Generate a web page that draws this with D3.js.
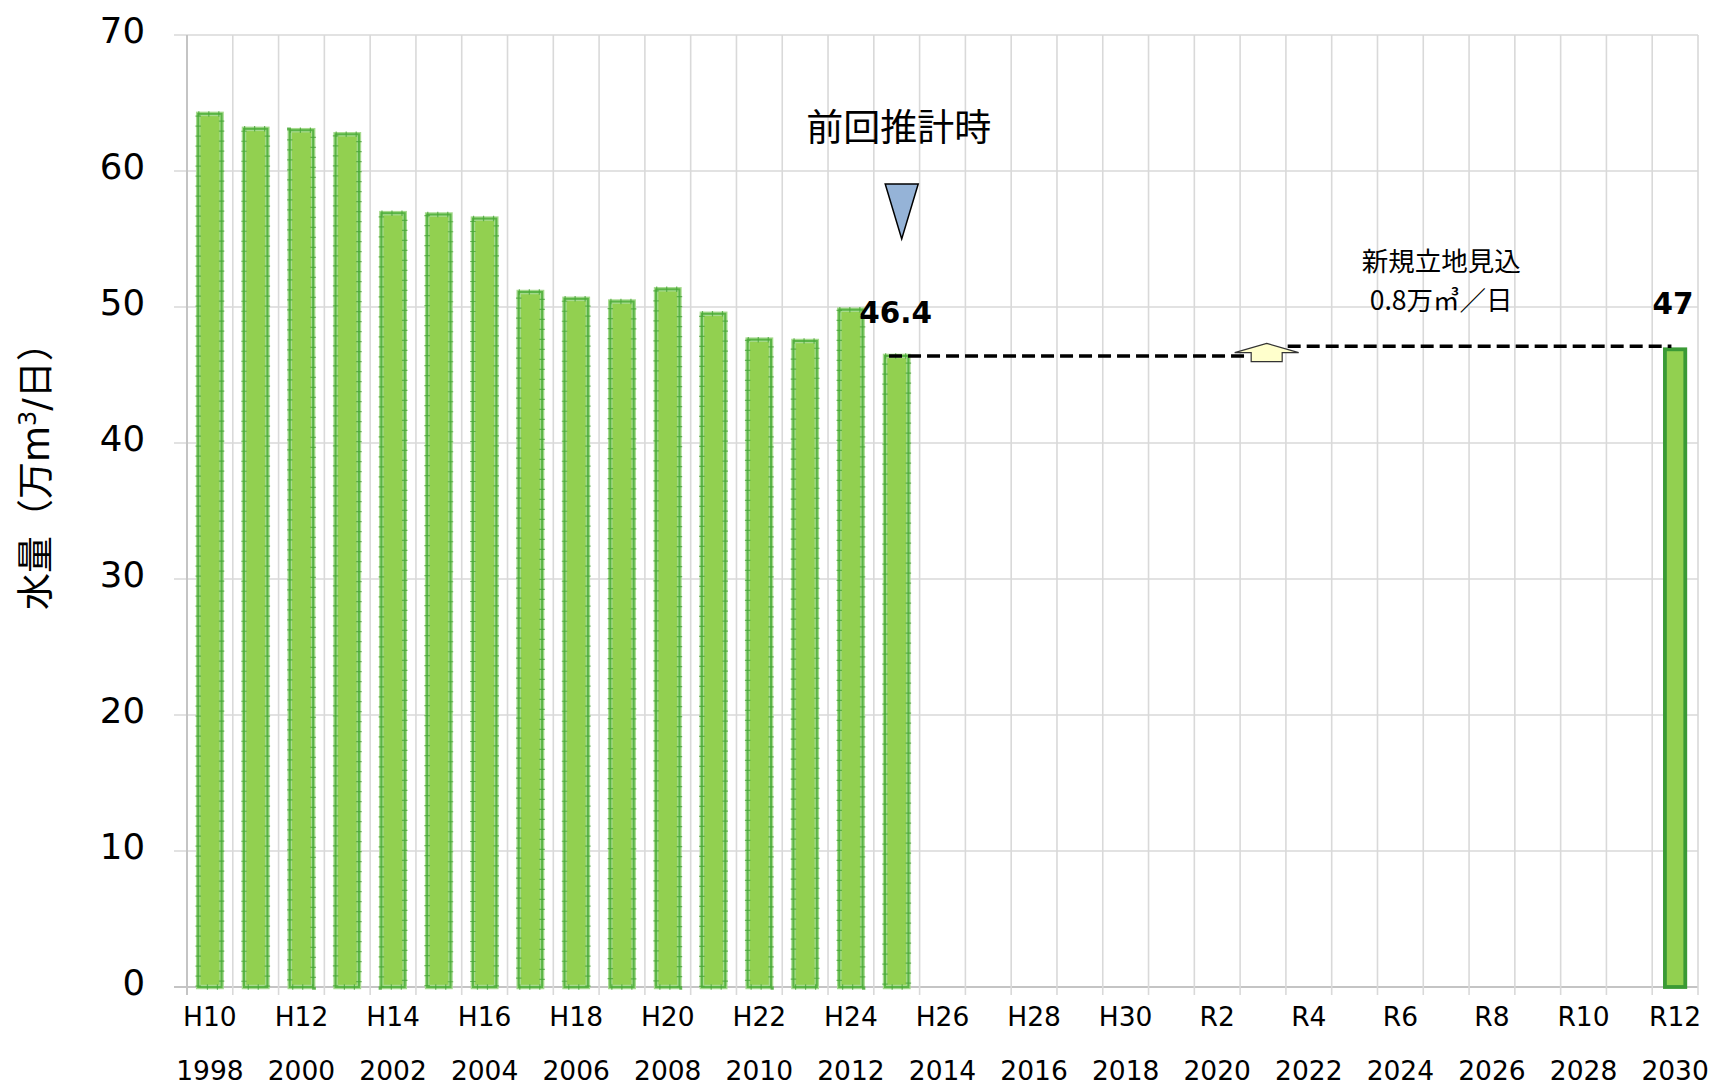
<!DOCTYPE html>
<html>
<head>
<meta charset="utf-8">
<script src="https://cdn.jsdelivr.net/npm/d3@7"></script>
<style>
  html, body { margin: 0; padding: 0; background: #fff; }
  svg { display: block; }
</style>
</head>
<body>
<div id="chart"></div>
<script>
// Fiscal years on the category axis
const years = [1998, 1999, 2000, 2001, 2002, 2003, 2004, 2005, 2006, 2007, 2008,
               2009, 2010, 2011, 2012, 2013, 2014, 2015, 2016, 2017, 2018, 2019,
               2020, 2021, 2022, 2023, 2024, 2025, 2026, 2027, 2028, 2029, 2030];

// Actual daily water volume (10,000 m3/day)
const actualYears  = [1998, 1999, 2000, 2001, 2002, 2003, 2004, 2005, 2006, 2007, 2008,
                      2009, 2010, 2011, 2012, 2013];
const actualValues = [64.2, 63.1, 63.0, 62.7, 56.9, 56.8, 56.5, 51.1, 50.6, 50.4, 51.3,
                      49.5, 47.6, 47.5, 49.8, 46.4];

// Projected volume for the target year
const projYear  = 2030;
const projValue = 47;

// Labelled ticks: era names and western years
const tickYears = [1998, 2000, 2002, 2004, 2006, 2008, 2010, 2012, 2014, 2016,
                   2018, 2020, 2022, 2024, 2026, 2028, 2030];
const eraLabels = ["H10", "H12", "H14", "H16", "H18", "H20", "H22", "H24", "H26",
                   "H28", "H30", "R2", "R4", "R6", "R8", "R10", "R12"];
const yTicks = [0, 10, 20, 30, 40, 50, 60, 70];

const W = 1713, H = 1085;
const plotL = 187, plotR = 1698, plotT = 35, plotB = 987;

const svg = d3.select("#chart").append("svg")
  .attr("width", W).attr("height", H);

const x = d3.scaleBand().domain(years).range([plotL, plotR]).padding(0);
const bw = x.bandwidth();
const y = d3.scaleLinear().domain([0, 70]).range([plotB, plotT]);

const grid = "#d9d9d9", axisCol = "#c4c4c4";

// Horizontal gridlines with outward ticks
svg.append("g").selectAll("line").data(yTicks).join("line")
  .attr("x1", plotL - 13).attr("x2", plotR)
  .attr("y1", d => y(d)).attr("y2", d => y(d))
  .attr("stroke", d => d === 0 ? axisCol : grid)
  .attr("stroke-width", d => d === 0 ? 2 : 1.6);

// Vertical gridlines at category boundaries
const bounds = years.map(d => x(d)).concat([plotR]);
svg.append("g").selectAll("line").data(bounds).join("line")
  .attr("x1", d => d).attr("x2", d => d)
  .attr("y1", plotT).attr("y2", plotB + 8)
  .attr("stroke", (d, i) => i === 0 ? axisCol : grid)
  .attr("stroke-width", (d, i) => i === 0 ? 2 : 1.6);

// Y tick labels
svg.append("g").selectAll("text").data(yTicks).join("text")
  .attr("x", 145).attr("y", d => y(d) + 7.5)
  .attr("text-anchor", "end")
  .attr("font-family", "'DejaVu Sans', Verdana, sans-serif")
  .attr("font-size", 35.5).attr("fill", "#000")
  .text(d => d);

// X tick labels: era row and year row
const xl = svg.append("g")
  .attr("font-family", "'DejaVu Sans', Verdana, sans-serif")
  .attr("font-size", 26.5).attr("fill", "#000").attr("text-anchor", "middle");
xl.selectAll("text.era").data(tickYears).join("text").attr("class", "era")
  .attr("x", d => x(d) + bw / 2).attr("y", 1026)
  .text((d, i) => eraLabels[i]);
xl.selectAll("text.yr").data(tickYears).join("text").attr("class", "yr")
  .attr("x", d => x(d) + bw / 2).attr("y", 1080)
  .text(d => d);

// Y axis title
const yt = svg.append("text")
  .attr("transform", "translate(49,610) rotate(-90)")
  .attr("text-anchor", "start")
  .attr("font-family", "'DejaVu Sans', 'Noto Sans CJK JP', sans-serif")
  .attr("font-size", 37).attr("fill", "#000");
yt.append("tspan").text("水量（万m");
yt.append("tspan").attr("font-size", 24).attr("dy", -13).text("3");
yt.append("tspan").attr("dy", 13).text("/日）");

// Actual bars
const barW = bw * 0.51;
const data = actualYears.map((d, i) => ({ year: d, value: actualValues[i] }));
const bars = svg.append("g");
bars.selectAll("rect.halo").data(data).join("rect").attr("class", "halo")
  .attr("x", d => x(d.year) + (bw - barW) / 2)
  .attr("y", d => y(d.value))
  .attr("width", barW)
  .attr("height", d => y(0) - y(d.value))
  .attr("fill", "#92d050")
  .attr("stroke", "#a6da8e").attr("stroke-width", 4.5);
bars.selectAll("rect.edge").data(data).join("rect").attr("class", "edge")
  .attr("x", d => x(d.year) + (bw - barW) / 2)
  .attr("y", d => y(d.value))
  .attr("width", barW)
  .attr("height", d => y(0) - y(d.value))
  .attr("fill", "none")
  .attr("stroke", "#5ab545").attr("stroke-width", 2);
bars.selectAll("rect.tick").data(data).join("rect").attr("class", "tick")
  .attr("x", d => x(d.year) + (bw - barW) / 2)
  .attr("y", d => y(d.value))
  .attr("width", barW)
  .attr("height", d => y(0) - y(d.value))
  .attr("fill", "none")
  .attr("stroke", "#4aa83a").attr("stroke-width", 5.5)
  .attr("stroke-dasharray", "1.2 8.8").attr("opacity", 0.8);

// Projected bar
svg.append("rect")
  .attr("x", x(projYear) + (bw - barW) / 2 + 1.5)
  .attr("y", y(projValue) + 1.5)
  .attr("width", barW - 3)
  .attr("height", y(0) - y(projValue) - 1.5)
  .attr("fill", "#92d050")
  .attr("stroke", "#3a9a35").attr("stroke-width", 3.8);

// Value labels
const lastActual = actualValues[actualValues.length - 1];
const vl = svg.append("g")
  .attr("font-family", "'DejaVu Sans', Verdana, sans-serif")
  .attr("font-weight", "bold").attr("font-size", 29.5).attr("fill", "#000")
  .attr("text-anchor", "middle");
vl.append("text")
  .attr("x", x(2013) + bw / 2 - 1).attr("y", y(lastActual) - 33)
  .text(lastActual);
vl.append("text")
  .attr("x", x(projYear) + bw / 2 - 2).attr("y", y(projValue) - 34)
  .text(projValue);

// Step from the last actual to the projection, with the new-site addition
const arrowX = x(2022) - 0.42 * bw;
svg.append("line")
  .attr("x1", x(2013) + (bw - barW) / 2 + 4).attr("x2", arrowX - 20)
  .attr("y1", y(lastActual)).attr("y2", y(lastActual))
  .attr("stroke", "#000").attr("stroke-width", 3.5)
  .attr("stroke-dasharray", "13 6");
svg.append("line")
  .attr("x1", arrowX + 21).attr("x2", x(projYear) + (bw - barW) / 2 + 8)
  .attr("y1", y(projValue) - 1.5).attr("y2", y(projValue) - 1.5)
  .attr("stroke", "#000").attr("stroke-width", 3.5)
  .attr("stroke-dasharray", "13 6");

const yb = y(lastActual);
const arrowPts = [
  [arrowX, y(projValue) - 4.5],
  [arrowX + 32, yb - 3.3],
  [arrowX + 15.5, yb - 3.3],
  [arrowX + 15.5, yb + 5.7],
  [arrowX - 15.5, yb + 5.7],
  [arrowX - 15.5, yb - 3.3],
  [arrowX - 32, yb - 3.3]
];
svg.append("polygon")
  .attr("points", arrowPts.map(p => p.join(",")).join(" "))
  .attr("fill", "#ffffcc").attr("stroke", "#333").attr("stroke-width", 1.2);

// Marker for the previous estimate
const mx = x(2013) + bw / 2 + 5;
svg.append("polygon")
  .attr("points", [[mx - 16.5, 184], [mx + 16.5, 184], [mx, 239]].map(p => p.join(",")).join(" "))
  .attr("fill", "#95b3d7").attr("stroke", "#000").attr("stroke-width", 1.5);
svg.append("text")
  .attr("x", mx - 3).attr("y", 141)
  .attr("text-anchor", "middle")
  .attr("font-family", "'Noto Sans CJK JP', sans-serif")
  .attr("font-size", 37).attr("fill", "#000")
  .text("前回推計時");

// New-site annotation
const note = svg.append("g")
  .attr("font-family", "'Noto Sans CJK JP', sans-serif")
  .attr("font-size", 26.5).attr("fill", "#000").attr("text-anchor", "middle");
note.append("text").attr("x", x(2025) + bw / 2 - 5).attr("y", 271).text("新規立地見込");
note.append("text").attr("x", x(2025) + bw / 2 - 5).attr("y", 310).text("0.8万㎥／日");
</script>
</body>
</html>
